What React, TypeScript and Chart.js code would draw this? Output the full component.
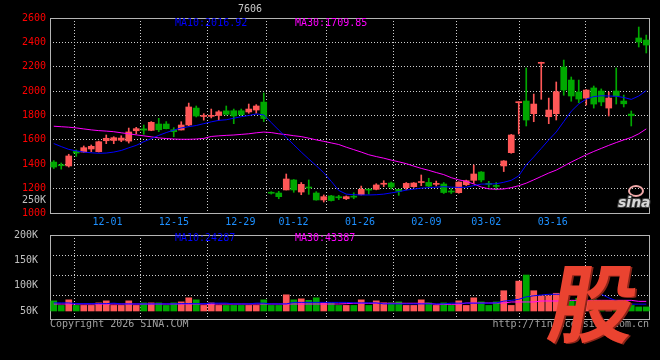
import React, { useEffect, useRef } from 'react';
import { Chart, registerables } from 'chart.js';

Chart.register(...registerables);

const dates = [
  '11-26', '11-27', '11-28',
  '12-01', '12-02', '12-03', '12-04', '12-05',
  '12-08', '12-09', '12-10', '12-11', '12-12',
  '12-15', '12-16', '12-17', '12-18', '12-19',
  '12-22', '12-23', '12-24', '12-25', '12-26',
  '12-29', '12-30', '12-31',
  '01-05', '01-06', '01-07', '01-08', '01-09',
  '01-12', '01-13', '01-14', '01-15', '01-16',
  '01-19', '01-20', '01-21', '01-22', '01-23',
  '01-26', '01-27', '01-28', '01-29', '01-30',
  '02-02', '02-03', '02-04', '02-05', '02-06',
  '02-09', '02-10', '02-11', '02-12', '02-13',
  '02-24', '02-25', '02-26', '02-27',
  '03-02', '03-03', '03-04', '03-05', '03-06',
  '03-09', '03-10', '03-11', '03-12', '03-13',
  '03-16', '03-17', '03-18', '03-19', '03-20',
  '03-23', '03-24', '03-25', '03-26', '03-27',
];

const dateTicks = ['12-01', '12-15', '12-29', '01-12', '01-26', '02-09', '03-02', '03-16'];

const opens = [
  1418, 1395, 1386, 1505, 1500, 1525, 1503, 1593, 1595, 1597,
  1590, 1675, 1690, 1678, 1730, 1730, 1683, 1681, 1722, 1861,
  1792, 1793, 1800, 1838, 1839, 1839, 1829, 1845, 1910, 1170,
  1164, 1189, 1271, 1172, 1212, 1164, 1107, 1140, 1131, 1117,
  1136, 1150, 1193, 1194, 1236, 1246, 1194, 1208, 1216, 1250,
  1251, 1235, 1238, 1180, 1167, 1232, 1268, 1336, 1242, 1224,
  1386, 1495, 1905, 1919, 1815, 2228, 1790, 1815, 2198, 2091,
  1993, 1943, 2026, 2001, 1861, 2001, 1919, 1812, 2436, 2419,
];
const highs = [
  1430, 1410, 1482, 1517, 1550, 1558, 1590, 1640, 1626, 1634,
  1697, 1703, 1722, 1750, 1777, 1750, 1700, 1749, 1902, 1878,
  1815, 1853, 1840, 1878, 1853, 1853, 1894, 1889, 1985, 1175,
  1178, 1320, 1275, 1250, 1271, 1175, 1148, 1145, 1145, 1140,
  1166, 1221, 1196, 1240, 1265, 1254, 1196, 1250, 1250, 1312,
  1285, 1262, 1250, 1200, 1256, 1270, 1394, 1340, 1260, 1250,
  1430, 1645, 1912, 2190, 1976, 2238, 1943, 2075, 2255, 2116,
  2091, 2012, 2042, 2018, 1993, 2190, 1968, 1837, 2526, 2460,
];
const lows = [
  1365, 1360, 1377, 1465, 1498, 1503, 1500, 1569, 1569, 1585,
  1574, 1648, 1646, 1675, 1667, 1690, 1626, 1681, 1716, 1788,
  1762, 1780, 1760, 1803, 1733, 1800, 1818, 1818, 1750, 1155,
  1117, 1189, 1170, 1150, 1153, 1105, 1090, 1098, 1110, 1110,
  1117, 1148, 1155, 1190, 1216, 1197, 1145, 1190, 1210, 1224,
  1215, 1221, 1160, 1160, 1162, 1225, 1243, 1255, 1212, 1190,
  1340, 1490, 1648, 1714, 1749, 1933, 1733, 1763, 1966, 1917,
  1905, 1886, 1861, 1880, 1796, 1894, 1870, 1714, 2362, 2313,
];
const closes = [
  1377, 1388, 1468, 1492, 1536, 1547, 1585, 1613, 1618, 1615,
  1665, 1692, 1680, 1744, 1683, 1692, 1667, 1722, 1870, 1796,
  1800, 1800, 1830, 1810, 1796, 1807, 1853, 1878, 1775, 1162,
  1134, 1279, 1189, 1235, 1205, 1107, 1134, 1102, 1125, 1134,
  1130, 1194, 1188, 1230, 1243, 1213, 1178, 1243, 1246, 1256,
  1221, 1240, 1168, 1172, 1254, 1265, 1320, 1271, 1235, 1218,
  1427, 1640, 1911, 1763, 1894, 2236, 1845, 1995, 2009, 1960,
  1935, 2009, 1894, 1911, 1943, 1960, 1896, 1798, 2403, 2378,
];

const ma10 = [
  1570, 1545, 1522, 1510, 1500, 1494, 1490, 1492, 1500, 1513,
  1535, 1555, 1585, 1610, 1637, 1660, 1680, 1698, 1708, 1718,
  1733, 1748, 1760, 1765, 1778, 1790, 1800, 1813, 1805, 1742,
  1680, 1620, 1560, 1500, 1443, 1388, 1330, 1260, 1185, 1155,
  1150, 1148, 1148, 1150, 1155, 1165, 1175, 1188, 1196, 1204,
  1208, 1212, 1216, 1212, 1210, 1212, 1225, 1237, 1238, 1240,
  1252, 1268, 1305, 1395, 1460, 1530, 1600, 1665, 1750, 1835,
  1895, 1935, 1955, 1962, 1960, 1958, 1948, 1932, 1960, 2005,
];
const ma30 = [
  1712, 1708, 1704, 1698, 1690, 1682, 1676, 1672, 1667, 1658,
  1650, 1641, 1633, 1625, 1616, 1611, 1607, 1605, 1605, 1607,
  1612, 1628, 1633, 1637, 1640, 1645, 1650, 1658, 1664, 1660,
  1650, 1643, 1634, 1627, 1614, 1600, 1588, 1575, 1562, 1540,
  1520, 1500, 1478, 1463, 1450, 1434, 1420, 1405, 1385, 1366,
  1350, 1332, 1315, 1290, 1272, 1260, 1238, 1213, 1198, 1195,
  1197, 1208, 1224, 1245, 1272, 1300, 1328, 1352, 1385, 1418,
  1448, 1478, 1505, 1530, 1555, 1578, 1600, 1620, 1650, 1690,
];

const volumes = [
  70000, 61000, 72000, 61000, 61000, 61000, 66000, 70000, 61000, 61000,
  70000, 61000, 66000, 66000, 66000, 61000, 66000, 68000, 76000, 72000,
  61000, 66000, 61000, 61000, 61000, 61000, 61000, 61000, 72000, 61000,
  61000, 82000, 72000, 74000, 71000, 76000, 66000, 66000, 61000, 61000,
  61000, 72000, 61000, 70000, 66000, 66000, 68000, 61000, 61000, 72000,
  66000, 61000, 66000, 61000, 70000, 61000, 76000, 68000, 61000, 68000,
  90000, 61000, 109000, 121000, 90000, 80000, 80000, 85000, 80000, 70000,
  75000, 70000, 72000, 70000, 70000, 68000, 66000, 61000, 58000, 58000,
];
const volMa10 = [
  66000, 66000, 66000, 64500, 64500, 64500, 64500, 64500, 65500, 64000,
  64000, 64000, 64000, 64000, 64000, 64000, 64000, 64500, 64500, 64500,
  64500, 65500, 65500, 65500, 64000, 64000, 64000, 65500, 65500, 64000,
  64000, 64000, 67000, 67000, 67000, 67000, 67000, 67000, 67000, 67000,
  66000, 66000, 66000, 66000, 64000, 64000, 64000, 64000, 64000, 64000,
  64000, 64000, 64000, 65500, 65500, 65500, 65500, 65500, 65500, 66000,
  69500, 71000, 73000, 78000, 80000, 81500, 83000, 83000, 83000, 83000,
  83000, 83000, 83000, 83000, 76000, 70000, 66000, 63500, 63500, 63500,
];
const volMa30 = [
  63800, 63800, 63800, 63800, 63800, 63800, 63800, 63800, 63800, 63800,
  63800, 63800, 63800, 63800, 63800, 63800, 63800, 63800, 63800, 63800,
  63800, 63800, 63800, 63800, 63800, 63800, 63800, 63800, 63800, 63800,
  63800, 63800, 63800, 63800, 63800, 63800, 63800, 63800, 63800, 64500,
  65200, 65200, 65200, 65200, 65200, 65200, 65200, 65200, 65200, 65200,
  65200, 63200, 63200, 63200, 63200, 65800, 65800, 65800, 65800, 65800,
  65800, 67800, 67800, 67800, 67800, 69700, 69700, 69700, 69700, 71000,
  71000, 71000, 71000, 71000, 71000, 71000, 71000, 71000, 69000, 69000,
];

const volTicks = [50000, 100000, 150000, 200000];
const priceMaLabels = ['MA10:2016.92', 'MA30:1709.85'];
const volMaLabels = ['MA10:24287', 'MA30:43387'];
const titleText = '7606';

const UP = '#ff5757';
const DOWN = '#00a800';
const GRID = '#d0d0d0';
const FRAME = '#b4b4b4';
const MONO = '"DejaVu Sans Mono", monospace';

const candleColor = (i: number) => (closes[i] >= opens[i] ? UP : DOWN);

const framePlugin = {
  id: 'frame',
  beforeDatasetsDraw(chart: any) {
    const { ctx, chartArea: a } = chart;
    ctx.save();
    ctx.strokeStyle = FRAME;
    ctx.lineWidth = 1;
    ctx.strokeRect(Math.round(a.left) + 0.5, Math.round(a.top) + 0.5, Math.round(a.right - a.left) - 1, Math.round(a.bottom - a.top));
    ctx.restore();
  },
};

function txt(ctx: CanvasRenderingContext2D, s: string, x: number, y: number, color: string, align: CanvasTextAlign = 'left') {
  ctx.fillStyle = color;
  ctx.textAlign = align;
  ctx.textBaseline = 'middle';
  ctx.fillText(s, x, y);
}

const priceTextPlugin = {
  id: 'priceText',
  afterDraw(chart: any) {
    const { ctx, chartArea: a } = chart;
    ctx.save();
    ctx.font = `10px ${MONO}`;
    txt(ctx, titleText, 250, 9.5, '#c8c8c8', 'center');
    txt(ctx, priceMaLabels[0], 175, 23.5, '#0000ff');
    txt(ctx, priceMaLabels[1], 295, 23.5, '#ff00ff');
    txt(ctx, '250K', a.left - 4, 200, '#c0c0c0', 'right');
    // sina watermark
    ctx.strokeStyle = '#f0a8a8';
    ctx.lineWidth = 2;
    ctx.beginPath();
    ctx.ellipse(636, 191, 7, 5, 0, 0, Math.PI * 2);
    ctx.stroke();
    ctx.font = 'italic bold 14px "DejaVu Sans", sans-serif';
    ctx.lineWidth = 2;
    ctx.strokeStyle = '#404040';
    ctx.textAlign = 'left';
    ctx.textBaseline = 'alphabetic';
    ctx.strokeText('sina', 618, 207);
    ctx.fillStyle = '#d8d8d8';
    ctx.fillText('sina', 618, 207);
    ctx.restore();
  },
};

const volTextPlugin = {
  id: 'volText',
  afterDraw(chart: any) {
    const { ctx, chartArea: a } = chart;
    ctx.save();
    ctx.font = `10px ${MONO}`;
    txt(ctx, volMaLabels[0], 175, 238, '#0000ff');
    txt(ctx, volMaLabels[1], 295, 238, '#ff00ff');
    txt(ctx, 'Copyright 2026 SINA.COM', a.left, 324, '#a0a0a0');
    txt(ctx, 'http://finance.sina.com.cn', a.right - 1, 324, '#a0a0a0', 'right');
    // logo character
    ctx.font = 'bold 86px "Noto Sans CJK SC", sans-serif';
    ctx.textAlign = 'left';
    ctx.textBaseline = 'alphabetic';
    ctx.translate(545, 336);
    ctx.transform(1, 0, -0.18, 1, 0, 0);
    ctx.fillStyle = '#8a2418';
    ctx.fillText('股', 2, 1);
    ctx.fillStyle = '#ea4330';
    ctx.fillText('股', 0, 0);
    ctx.restore();
  },
};

function dateAxis(height: number, showLabels: boolean) {
  return {
    type: 'linear',
    position: 'bottom',
    min: 0,
    max: dates.length - 1,
    afterBuildTicks: (s: any) => {
      s.ticks = dateTicks.map((d) => ({ value: dates.indexOf(d) }));
    },
    afterFit: (s: any) => {
      s.height = height;
    },
    grid: { color: GRID, drawTicks: false, lineWidth: 1 },
    border: { display: false, dash: [1, 2] },
    ticks: {
      display: showLabels,
      color: '#1e90ff',
      font: { family: MONO, size: 10 },
      padding: 3,
      maxRotation: 0,
      autoSkip: false,
      callback: (v: any) => dates[v],
    },
  };
}

export default function App() {
  const priceRef = useRef<HTMLCanvasElement>(null);
  const volRef = useRef<HTMLCanvasElement>(null);

  useEffect(() => {
    document.body.style.margin = '0';
    const bodyData = opens.map((o, i) => [o, closes[i]]);
    const wickData = lows.map((l, i) => [l, highs[i]]);

    const price = new Chart(priceRef.current as HTMLCanvasElement, {
      type: 'bar',
      data: {
        labels: dates,
        datasets: [
          { type: 'line', data: ma10, borderColor: '#0000ff', borderWidth: 1, pointRadius: 0, order: 0, xAxisID: 'x', yAxisID: 'y' } as any,
          { type: 'line', data: ma30, borderColor: '#ff00ff', borderWidth: 1, pointRadius: 0, order: 0, xAxisID: 'x', yAxisID: 'y' } as any,
          {
            type: 'bar', data: bodyData as any, order: 1, barThickness: 6, minBarLength: 1, grouped: false,
            backgroundColor: (c: any) => candleColor(c.dataIndex), borderWidth: 0, xAxisID: 'x', yAxisID: 'y',
          } as any,
          {
            type: 'bar', data: wickData as any, order: 2, barThickness: 1, grouped: false,
            backgroundColor: (c: any) => candleColor(c.dataIndex), borderWidth: 0, xAxisID: 'x', yAxisID: 'y',
          } as any,
        ],
      },
      options: {
        responsive: false,
        animation: false,
        devicePixelRatio: 1,
        layout: { padding: { top: 18, right: 10, left: 0, bottom: 0 } },
        plugins: { legend: { display: false }, tooltip: { enabled: false } },
        scales: {
          x: { type: 'category', offset: true, display: false },
          xg: dateAxis(147, true) as any,
          y: {
            type: 'linear', position: 'left', min: 1000, max: 2600,
            afterFit: (s: any) => { s.width = 50; },
            ticks: { stepSize: 200, color: '#ff0000', font: { family: MONO, size: 10 }, padding: 4, callback: (v: any) => String(v) },
            grid: {
              drawTicks: false,
              color: (c: any) => (c.tick && (c.tick.value === 1000 || c.tick.value === 2600) ? 'rgba(0,0,0,0)' : GRID),
            },
            border: { display: false, dash: [1, 2] },
          },
        },
      } as any,
      plugins: [framePlugin, priceTextPlugin],
    });

    const vol = new Chart(volRef.current as HTMLCanvasElement, {
      type: 'bar',
      data: {
        labels: dates,
        datasets: [
          { type: 'line', data: volMa10, borderColor: '#0000ff', borderWidth: 1, pointRadius: 0, order: 0, xAxisID: 'x', yAxisID: 'y' } as any,
          { type: 'line', data: volMa30, borderColor: '#ff00ff', borderWidth: 1, pointRadius: 0, order: 0, xAxisID: 'x', yAxisID: 'y' } as any,
          {
            type: 'bar', data: volumes, order: 1, barThickness: 6, base: volTicks[0], grouped: false,
            backgroundColor: (c: any) => candleColor(c.dataIndex), borderWidth: 0, xAxisID: 'x', yAxisID: 'y',
          } as any,
        ],
      },
      options: {
        responsive: false,
        animation: false,
        devicePixelRatio: 1,
        layout: { padding: { top: 235, right: 10, left: 0, bottom: 0 } },
        plugins: { legend: { display: false }, tooltip: { enabled: false } },
        scales: {
          x: { type: 'category', offset: true, display: false },
          xg: dateAxis(41, false) as any,
          y: {
            type: 'linear', position: 'left', min: 34200, max: 200000,
            afterBuildTicks: (s: any) => { s.ticks = volTicks.map((v) => ({ value: v })); },
            afterFit: (s: any) => { s.width = 50; },
            ticks: { color: '#c0c0c0', font: { family: MONO, size: 10 }, padding: 4, callback: (v: any) => `${v / 1000}K` },
            grid: { display: false },
            border: { display: false },
          },
          yg: {
            type: 'linear', position: 'right', min: 0, max: 4.2, reverse: true,
            afterBuildTicks: (s: any) => { s.ticks = [1, 2, 3].map((v) => ({ value: v })); },
            afterFit: (s: any) => { s.width = 0; },
            ticks: { display: false },
            grid: { color: GRID, drawTicks: false },
            border: { display: false, dash: [1, 2] },
          },
        },
      } as any,
      plugins: [framePlugin, volTextPlugin],
    });

    return () => {
      price.destroy();
      vol.destroy();
    };
  }, []);

  return (
    <div style={{ position: 'fixed', left: 0, top: 0, width: 660, height: 360, background: '#000', overflow: 'hidden' }}>
      <canvas ref={priceRef} width={660} height={360} style={{ position: 'absolute', left: 0, top: 0 }} />
      <canvas ref={volRef} width={660} height={360} style={{ position: 'absolute', left: 0, top: 0 }} />
    </div>
  );
}
